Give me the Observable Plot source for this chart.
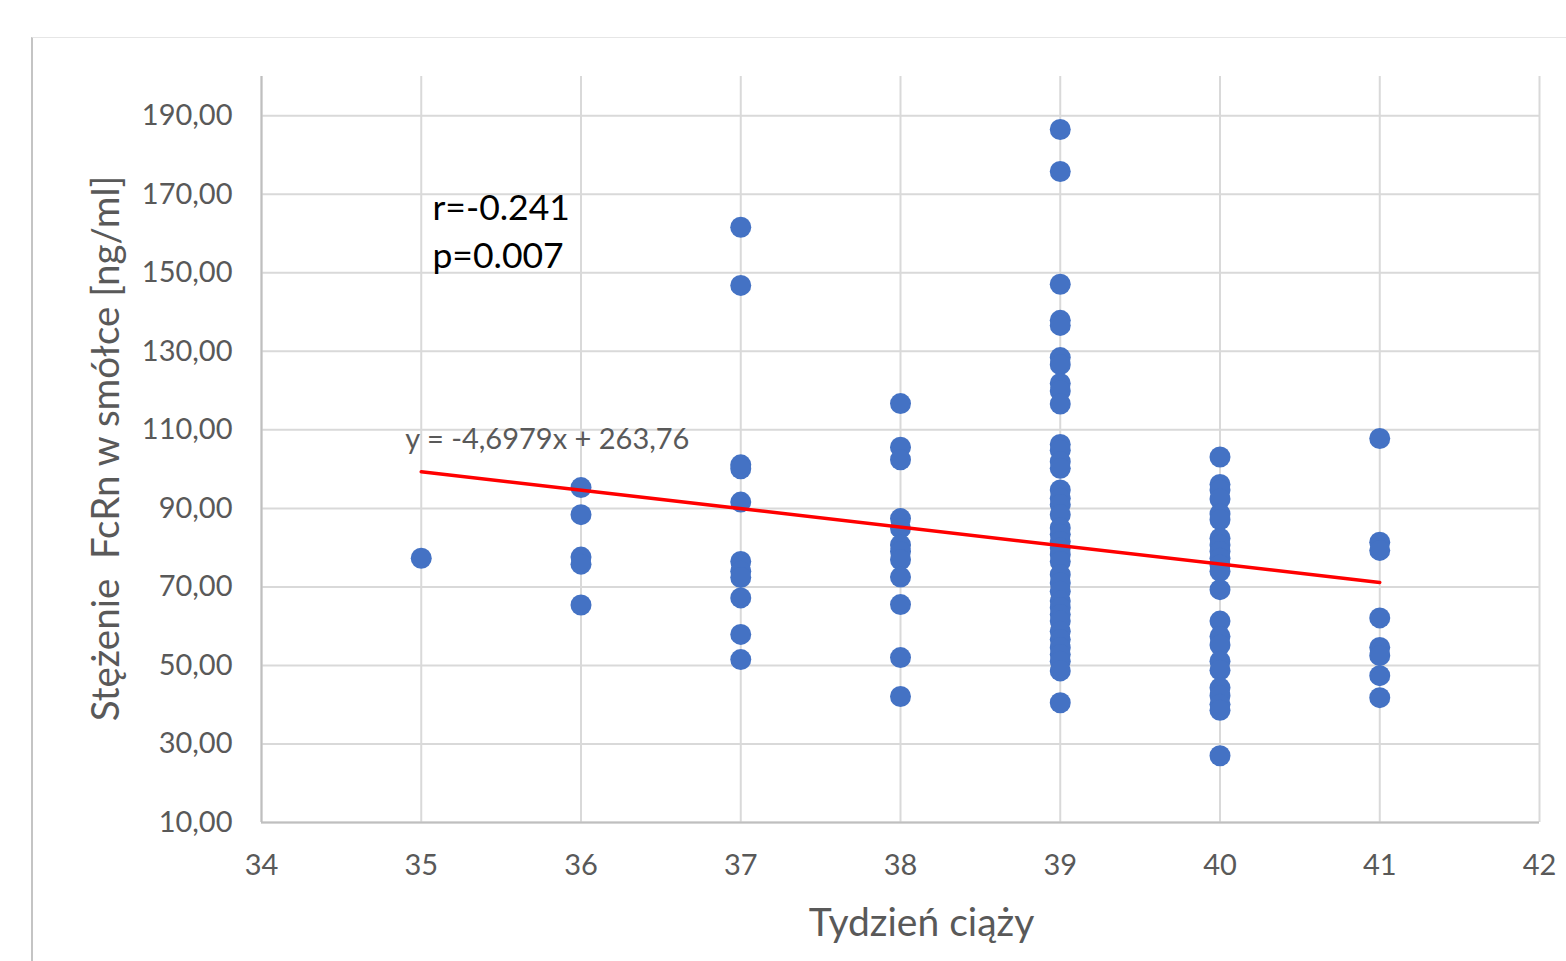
<!DOCTYPE html>
<html>
<head>
<meta charset="utf-8">
<script src="https://cdn.jsdelivr.net/npm/d3@7"></script>
<script src="https://cdn.jsdelivr.net/npm/@observablehq/plot@0.6"></script>
<style>
  html, body { margin: 0; padding: 0; background: #fff; }
  #wrap { position: relative; width: 1566px; height: 961px; overflow: hidden; }
  #frame { position: absolute; left: 31px; top: 37px; right: -10px; bottom: -10px;
           border-left: 2px solid #c4c4c4; border-top: 1px solid #e6e6e6; pointer-events: none; }
</style>
</head>
<body>
<div id="wrap"><div id="frame"></div></div>
<script>
// ---- data ----
const w35 = [77.3];
const w36 = [95.3, 88.4, 77.6, 75.8, 65.4];
const w37 = [161.6, 146.8, 101.1, 100.1, 91.6, 76.5, 74.0, 72.4, 67.2, 57.9, 51.5];
const w38 = [116.7, 105.6, 102.4, 87.4, 84.9, 80.7, 79.0, 76.9, 72.5, 65.5, 52.0, 42.1];
const w39 = [186.5, 175.8, 147.1, 137.9, 136.6, 128.4, 126.6, 121.8, 119.9, 116.6,
             106.3, 104.8, 101.9, 100.2, 94.7, 92.6, 91.0, 88.4, 85.0, 83.4, 81.6,
             79.9, 78.2, 76.5, 73.1, 71.0, 68.9, 66.4, 64.7, 63.0, 61.3, 58.7, 56.6,
             54.5, 52.8, 51.1, 48.6, 40.5];
const w40 = [103.1, 96.1, 94.7, 92.4, 88.6, 87.1, 82.4, 80.7, 79.0, 77.3, 75.6, 74.0,
             69.3, 61.3, 57.4, 55.2, 51.1, 48.8, 44.3, 42.3, 40.1, 38.6, 27.0];
const w41 = [107.8, 81.4, 79.3, 62.1, 54.6, 52.5, 47.4, 41.8];

const weeks = [35, 36, 37, 38, 39, 40, 41];
const groups = [w35, w36, w37, w38, w39, w40, w41];

const trendX = [35, 41];
const trendY = [99.33, 71.15];

const xTicks = [34, 35, 36, 37, 38, 39, 40, 41, 42];
const yTicks = [10, 30, 50, 70, 90, 110, 130, 150, 170, 190];

const xTitle = "Tydzień ciąży";
const yTitle = "Stężenie  FcRn w smółce [ng/ml]";
const rText = "r=-0.241";
const pText = "p=0.007";
const eqText = "y = -4,6979x + 263,76";

// ---- tables ----
const points = groups.flatMap((g, i) => g.map(v => ({week: weeks[i], value: v})));
const trend = trendX.map((x, i) => ({x, y: trendY[i]}));

const fmt = d => d.toFixed(2).replace(".", ",");
const grid = "#d9d9d9";
const tickColor = "#595959";
const font = "Lato, 'Open Sans', sans-serif";

const chart = Plot.plot({
  width: 1566,
  height: 961,
  marginLeft: 261,
  marginRight: 27,
  marginTop: 76,
  marginBottom: 139,
  style: {fontFamily: font, background: "transparent", overflow: "visible"},
  x: {domain: [34, 42]},
  y: {domain: [10, 200]},
  marks: [
    Plot.ruleX(xTicks, {x: d => d, y1: 10, y2: 200, stroke: grid, strokeWidth: 2}),
    Plot.ruleY(yTicks, {y: d => d, x1: 34, x2: 42, stroke: grid, strokeWidth: 2}),
    Plot.ruleX([34], {y1: 10, y2: 200, stroke: "#bfbfbf", strokeWidth: 2}),
    Plot.ruleY([10], {x1: 34, x2: 42, stroke: "#bfbfbf", strokeWidth: 2}),
    Plot.axisY({ticks: yTicks, tickFormat: fmt, tickSize: 0, tickPadding: 29,
                fontSize: 29, fill: tickColor, label: null}),
    Plot.axisX({ticks: xTicks, tickFormat: d => String(d), tickSize: 0, tickPadding: 32,
                fontSize: 29, fill: tickColor, label: null}),
    Plot.dot(points, {x: "week", y: "value", r: 10.5, fill: "#4472C4", stroke: "none"}),
    Plot.line(trend, {x: "x", y: "y", stroke: "#FF0000", strokeWidth: 3.5}),
    Plot.text([eqText], {x: 34.9, y: 107.6, text: d => d, textAnchor: "start",
                         fontSize: 29, fill: tickColor}),
    Plot.text([rText], {x: 35.07, y: 166.3, text: d => d, textAnchor: "start",
                        fontSize: 35.5, fill: "#000"}),
    Plot.text([pText], {x: 35.07, y: 154.2, text: d => d, textAnchor: "start",
                        fontSize: 35.5, fill: "#000"}),
    Plot.text([yTitle], {frameAnchor: "left", textAnchor: "middle", rotate: -90,
                         dx: -155, dy: -1, text: d => d, fontSize: 38.5, fill: tickColor}),
    Plot.text([xTitle], {frameAnchor: "bottom", textAnchor: "middle", dx: 21, dy: 113,
                         text: d => d, fontSize: 39, fill: tickColor})
  ]
});
chart.style.position = "absolute";
chart.style.left = "0px";
chart.style.top = "0px";
document.getElementById("wrap").appendChild(chart);
</script>
</body>
</html>
